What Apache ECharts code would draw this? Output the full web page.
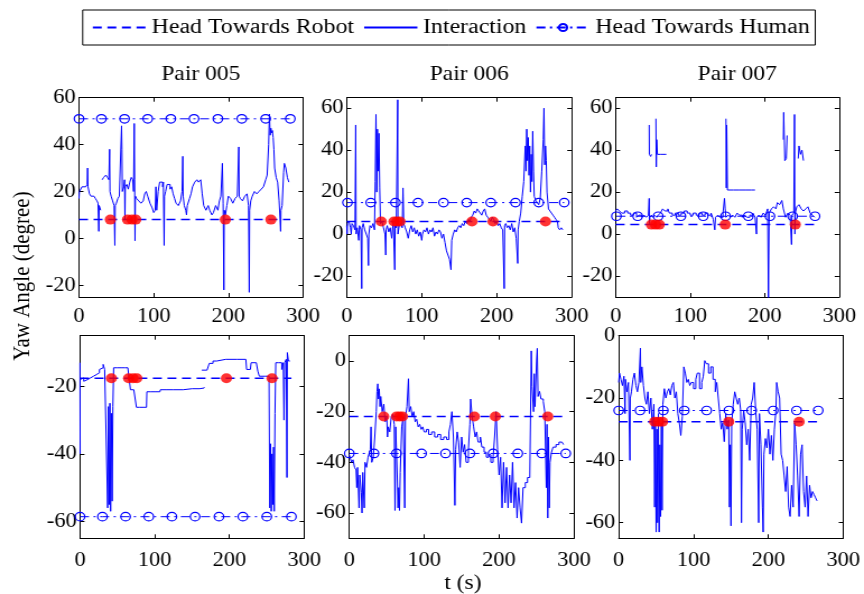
<!DOCTYPE html>
<html><head><meta charset="utf-8">
<script src="https://cdn.jsdelivr.net/npm/echarts@6.0.0/dist/echarts.min.js"></script>
<style>
html,body{margin:0;padding:0;overflow:hidden;background:#fff}
#c{width:771px;height:594px;transform-origin:0 0;transform:scaleX(1.1206);}
</style></head><body><div id="c"></div>
<script>
// ---------------- DATA ----------------
const pairTitles = ['Pair 005', 'Pair 006', 'Pair 007'];
const legendNames = ['Head Towards Robot', 'Interaction', 'Head Towards Human'];
const xTicks = [0, 100, 200, 300];
const xRange = [0, 300];
// panels: top row (005,006,007), bottom row (005,006,007)
const yMin = [-25, -30, -30, -65, -70, -65];
const yMax = [60, 65, 65, -5, 10, 0];
const yTicksTop = [-20, 0, 20, 40, 60];
const yTicksB005 = [-60, -40, -20];
const yTicksB006 = [-60, -40, -20, 0];
const yTicksB007 = [-60, -40, -20, 0];

const robotLevel = [8, 6, 4.5, -17.6, -21.9, -27.6];
const humanLevel = [51, 15, 8.5, -58.6, -36.5, -24];
const endTime = [283, 290, 268, 283, 290, 266];

const humanMarks005 = [0, 30, 61, 92, 123, 154, 186, 218, 250, 283];
const humanMarks006 = [1, 32, 65, 95, 129, 160, 192, 225, 256, 290];
const humanMarks007 = [1, 29.5, 57, 87.5, 117.5, 147.5, 178, 207, 237.5, 267.5];
const humanMarks006b = [0, 33, 63, 96.5, 128.5, 161, 192, 225, 257, 289];
const humanMarks007b = [0, 28.5, 59.6, 87.6, 117.5, 147.3, 177.6, 206.4, 237.6, 266.5];

const events005 = [42, 65, 71, 76, 196, 257];
const events006 = [46, 63, 67, 71, 167, 195, 265];
const events007 = [48, 53.5, 58.5, 147, 241];

const inter005top = [[0,17],[0.5,20],[3,20],[4,22],[9,22],[11,23],[11.5,30],[12,22],[14,19],[16,18],[20,18],[22,17],[24,16],[25.5,15],[26.5,3],[27,14],[29,12],[30,'-'],
[31,25],[33,26],[36,27],[38,26],[40,25],[41,38],[41.5,20],[43,18],[45,16],[47,14],[48,-3],[48.5,14],[50,15],[52,17],[54,18],[56,18],[57,48],[57.5,38],[58,20],[60,22],[61,25],[61.5,8],[62,22],[64,23],[66,21],[68,24],[70,26],[72,25],[73,20],[74,49],[74.5,25],[75,-1],[75.5,18],[77,17],[80,16],[83,15],[86,16],[88,19],[90,20],[92,18],[95,15],[98,13],[100,11],[102,12],[103,22],[104,12],[106,20],[108,24],[110,24],[112,22],[113,24],[114,-3],[114.5,18],[116,20],[118,23],[120,23],[122,21],[124,22],[126,19],[128,17],[130,15],[133,14],[136,16],[138,20],[139,35],[139.5,18],[141,14],[143,12],[144,10],[145,14],[148,17],[150,19],[152,22],[155,24],[158,25],[160,24],[163,25],[165,19],[167,14],[170,12],[173,14],[175,12],[178,10],[180,11],[183,14],[186,12],[188,16],[190,18],[192,32],[193,15],[194,-22],[194.5,12],[196,10],[198,14],[200,18],[203,17],[206,15],[209,17],[212,18],[214,39],[214.5,18],[216,17],[219,16],[222,18],[225,19],[227,14],[228,-23],[228.5,12],[230,16],[232,18],[235,20],[238,19],[241,20],[244,21],[247,22],[250,25],[252,27],[254,40],[255,53],[256,44],[257,47],[258,45],[259,46],[260,43],[261,38],[262,30],[264,26],[266,24],[268,16],[270,3],[270.5,12],[272,14],[274,28],[275,32],[277,30],[279,26],[281,24]];

const inter006top = [[0,4],[0.5,0],[1,5],[3,6],[5,3],[6,0],[7,5],[9,4],[11,2],[12,52],[12.5,0],[14,3],[16,-3],[17,4],[19,2],[20,-26],[20.5,3],[22,5],[24,2],[26,0],[28,-2],[29,-15],[29.5,0],[31,4],[33,3],[35,5],[37,2],[38,25],[39,57],[40,20],[41,50],[42,30],[43,48],[44,22],[45,5],[47,6],[49,3],[51,0],[52,-10],[52.5,2],[54,4],[56,1],[58,3],[60,-2],[62,6],[64,-17],[64.5,4],[66,3],[68,64],[68.3,0],[70,4],[72,5],[74,3],[75,22],[75.3,18],[76,5],[78,3],[80,1],[82,-2],[84,2],[86,4],[88,1],[90,3],[92,0],[94,2],[96,-1],[98,1],[100,-3],[101,0],[103,2],[105,1],[107,3],[109,0],[111,2],[113,1],[115,3],[117,-1],[119,1],[121,0],[123,2],[125,1],[127,-2],[129,0],[131,-4],[133,-8],[135,-10],[137,-12],[139,-17],[140,-3],[142,0],[144,2],[146,1],[148,3],[150,4],[152,3],[154,5],[156,4],[158,6],[160,5],[162,7],[164,6],[166,8],[168,9],[170,11],[172,10],[174,12],[176,11],[178,10],[180,9],[182,11],[184,12],[186,9],[188,8],[190,7],[192,6],[194,8],[196,7],[198,5],[200,6],[202,4],[204,5],[206,3],[208,2],[210,-26],[210.5,4],[212,5],[214,3],[216,4],[218,2],[220,5],[222,1],[224,3],[226,-2],[228,-14],[228.5,2],[230,6],[232,10],[234,18],[236,25],[238,42],[239,30],[240,50],[241,35],[242,46],[243,28],[244,42],[245,20],[246,38],[247,25],[248,49],[249,30],[250,18],[252,16],[254,15],[256,14],[258,17],[260,30],[262,45],[263,60],[264,33],[265,42],[266,35],[267,20],[269,12],[271,11],[273,10],[275,9],[277,8],[279,7],[281,6],[282,3],[284,2],[286,3],[288,2]];

const inter007top = [[0,11],[2,12],[5,11],[8,10],[12,11],[16,10],[20,9],[24,10],[28,8],[31,9],[35,8],[38,9],[41,8],[44,9],[45,17],[45.3,5],[46,8],[48,9],[50,8],[52,9],[55,8],[57,9],[60,10],[63,12],[66,11],[70,12],[72,10],[76,9],[80,10],[84,9],[88,10],[92,11],[96,10],[100,9],[104,10],[108,9],[112,10],[116,9],[120,10],[124,9],[128,10],[131,7],[133,2],[134,8],[137,9],[140,8],[144,10],[146,17],[147,12],[148,8],[151,9],[154,8],[157,9],[160,8],[163,10],[166,9],[170,8],[173,9],[176,8],[180,9],[184,10],[187,8],[189,0],[189.5,8],[192,9],[195,8],[198,10],[201,9],[204,12],[205,-32],[205.5,-10],[206,10],[209,12],[212,13],[215,12],[217,15],[220,14],[223,16],[225,12],[228,8],[231,10],[234,9],[236,-5],[236.5,9],[239,10],[240,57],[240.5,0],[241,10],[243,13],[246,14],[249,12],[252,11],[255,12],[258,13],[261,10],[264,9],[267,8],
[267.5,'-'],[45,52],[45.2,38],[46,38],[47,37],[48,38],[48.5,'-'],[54,55],[54.5,32],[55,45],[56,38],[60,38],[64,38],[68,38],[68.5,'-'],[148,55],[148.5,22],[149,52],[150,21],[158,21],[166,21],[174,21],[182,21],[187,21],[187.5,'-'],[225,45],[225.5,58],[226,50],[227,35],[229,36],[230,47],[230.5,'-'],[245,36],[246,42],[248,38],[250,40],[252,35]];

const inter005bot = [[0,-13],[0.2,-40],[0.3,'-'],[0,-18],[3,-17.5],[5,-18.5],[7,-18],[10,-17.5],[14,-17],[18,-16.5],[22,-16],[26,-15],[29,-14.5],[31,-13.5],[33,-15],[36,-15.5],[37,-56],[38,-26],[39,-55],[40,-25],[41,-57],[42,-28],[43,-54],[44,-26],[45,-14.5],[50,-14.5],[55,-14.5],[60,-14.5],[64,-14.5],[67,-14.5],[67.5,-21],[72,-21],[75,-21],[75.5,-26.2],[80,-26.2],[85,-26.2],[89,-26.2],[89.5,-21.6],[95,-21.6],[100,-21.6],[107,-21.6],[107.5,-21],[115,-21],[125,-21],[138,-21],[140,-20.7],[150,-20.7],[160,-20.5],[166,-20.3],[166.5,'-'],[163,-15.2],[170,-15.2],[173,-13.2],[178,-12.5],[183,-12],[195,-12],[210,-12],[222,-12],[223,-15],[228,-15],[229,-13],[236,-13],[238,-15.5],[240,-17],[248,-17],[253,-17],[254,-56],[255,-37],[256,-57],[257,-40],[258,-55],[259,-38],[260,-57],[261,-28],[262,-13],[266,-13],[270,-15],[272,-13],[273,-30],[274,-13],[276,-12],[277,-47],[277.5,-10],[279,-12.5],[281,-12.5]];

const inter006bot = [[0,-37],[1,-38],[3,-40],[5,-39],[7,-42],[9,-43],[10,-50],[11,-42],[13,-58],[14,-45],[16,-52],[17,-60],[18,-44],[20,-58],[21,-40],[23,-42],[25,-38],[27,-36],[28,-35],[29,-26],[30,-40],[32,-38],[34,-30],[36,-20],[37,-12],[38,-9],[39,-15],[40,-11],[41,-18],[42,-14],[44,-20],[46,-17],[48,-24],[50,-22],[51,-30],[52,-26],[54,-28],[56,-22],[58,-21],[60,-25],[61,-59],[62,-26],[64,-45],[65,-58],[66,-50],[67,-59],[68,-44],[70,-26],[72,-22],[74,-58],[75,-22],[77,-18],[79,-7],[80,-20],[82,-18],[84,-22],[86,-20],[88,-24],[90,-23],[92,-26],[94,-25],[96,-27],[98,-26],[100,-28],[103,-27],[106,-29],[110,-28],[114,-30],[118,-29],[122,-31],[126,-30],[130,-31],[133,-28],[135,-25],[137,-20],[139,-30],[141,-57],[142,-35],[144,-28],[146,-32],[148,-42],[150,-30],[152,-36],[154,-33],[156,-40],[159,-35],[161,-25],[162,-15],[164,-22],[166,-26],[168,-30],[170,-28],[172,-32],[175,-30],[177,-34],[180,-36],[183,-38],[186,-37],[189,-40],[192,-38],[194,-30],[196,-20],[198,-35],[200,-45],[202,-38],[204,-58],[206,-40],[208,-56],[210,-42],[212,-58],[214,-45],[216,-56],[218,-40],[220,-58],[222,-48],[224,-62],[226,-50],[228,-58],[230,-64],[232,-50],[235,-48],[238,-46],[241,-45],[243,4],[244,-10],[246,-20],[247,-5],[248,-18],[250,0],[251,5],[252,-14],[254,-12],[256,-15],[259,-16],[261,-20],[263,-50],[264,-25],[265,-62],[266,-30],[267,-58],[268,-40],[270,-36],[272,-34],[276,-33],[280,-32],[284,-32],[286,-33]];

const inter007bot = [[0,-15],[1,-12],[3,-14],[5,-16],[7,-13],[8.5,-25],[9,-14],[11,-18],[13,-15],[15,-40],[15.5,-20],[17,-18],[19,-14],[21,-12],[23,-16],[25,-18],[27,-15],[29,-4],[29.5,-15],[31,-10],[33,-16],[35,-20],[37,-22],[39,-18],[41,-25],[43,-20],[45,-30],[47,-22],[48,-55],[49,-28],[50,-63],[51,-30],[52,-60],[53,-25],[54,-63],[55,-35],[56,-58],[57,-28],[58,-56],[59,-22],[61,-17],[63,-20],[65,-18],[67,-17],[69,-19],[71,-16],[73,-15],[75,-20],[77,-18],[79,-25],[81,-28],[83,-32],[85,-26],[87,-10],[89,-12],[91,-15],[93,-14],[95,-16],[97,-15],[100,-17],[103,-14],[105,-12],[108,-17],[111,-15],[113,-13],[115,-8],[117,-9],[120,-12],[123,-10],[126,-14],[129,-18],[131,-15],[133,-20],[135,-25],[137,-30],[139,-28],[141,-34],[143,-25],[145,-30],[147,-27],[148,-55],[149,-35],[150,-61],[151,-28],[153,-22],[155,-18],[157,-20],[159,-22],[161,-20],[163,-24],[164,-60],[165,-30],[167,-24],[169,-28],[171,-35],[173,-30],[175,-40],[177,-22],[179,-20],[181,-15],[183,-24],[185,-30],[187,-60],[188,-25],[190,-35],[192,-55],[193,-63],[194,-38],[196,-33],[198,-36],[200,-30],[202,-38],[204,-32],[206,-40],[208,-30],[210,-24],[211,-15],[213,-18],[215,-20],[217,-38],[219,-40],[221,-45],[223,-50],[225,-42],[227,-55],[229,-58],[231,-48],[233,-55],[235,-28],[237,-35],[239,-45],[241,-58],[243,-38],[245,-35],[247,-50],[249,-55],[251,-45],[253,-58],[255,-48],[257,-52],[259,-50],[261,-51],[263,-52],[265,-53]];

// ---------------- BUILD ----------------
const FONT = 'Liberation Serif';
const BLUE = '#0000ff';
const NOFILL = 'rgba(0,0,0,0)';
const panels = [
  {inter: inter005top, marks: humanMarks005, ev: events005, yt: yTicksTop},
  {inter: inter006top, marks: humanMarks006, ev: events006, yt: yTicksTop},
  {inter: inter007top, marks: humanMarks007, ev: events007, yt: yTicksTop},
  {inter: inter005bot, marks: humanMarks005, ev: events005, yt: yTicksB005},
  {inter: inter006bot, marks: humanMarks006b, ev: events006, yt: yTicksB006},
  {inter: inter007bot, marks: humanMarks007b, ev: events007, yt: yTicksB007}
];
const gridPos = [
  {left: 70.5, top: 97.7, width: 199.9, height: 199.3},
  {left: 309.4, top: 97.7, width: 200.8, height: 199.3},
  {left: 549.4, top: 97.7, width: 199.5, height: 199.3},
  {left: 71.4, top: 335.7, width: 200, height: 202.6},
  {left: 311.7, top: 335.7, width: 200.5, height: 202.6},
  {left: 552.1, top: 335.7, width: 200.4, height: 202.6}
];
const xLabelMargin = [10, 10, 10, 12, 12, 12];
const axLine = {onZero: false, lineStyle: {color: '#000', width: 1}};
const grids = [], xAxes = [], yAxes = [], series = [];
panels.forEach((p, i) => {
  grids.push(Object.assign({containLabel: false}, gridPos[i]));
  xAxes.push({gridIndex: i, type: 'value', min: xRange[0], max: xRange[1], position: 'bottom',
    axisLine: axLine, splitLine: {show: false},
    axisTick: {inside: true, length: 4, customValues: xTicks, lineStyle: {color: '#000'}},
    axisLabel: {customValues: xTicks, margin: xLabelMargin[i], fontFamily: FONT, fontSize: 20, color: '#000'}});
  xAxes.push({gridIndex: i, type: 'value', min: xRange[0], max: xRange[1], position: 'top',
    axisLine: axLine, splitLine: {show: false},
    axisTick: {inside: true, length: 4, customValues: xTicks, lineStyle: {color: '#000'}},
    axisLabel: {show: false}});
  yAxes.push({gridIndex: i, type: 'value', min: yMin[i], max: yMax[i], position: 'left',
    axisLine: axLine, splitLine: {show: false},
    axisTick: {inside: true, length: 4, customValues: p.yt, lineStyle: {color: '#000'}},
    axisLabel: {customValues: p.yt, margin: 3, fontFamily: FONT, fontSize: 20, color: '#000'}});
  yAxes.push({gridIndex: i, type: 'value', min: yMin[i], max: yMax[i], position: 'right',
    axisLine: axLine, splitLine: {show: false},
    axisTick: {inside: true, length: 4, customValues: p.yt, lineStyle: {color: '#000'}},
    axisLabel: {show: false}});
  const xi = 2 * i, yi = 2 * i;
  series.push({type: 'line', name: legendNames[1], xAxisIndex: xi, yAxisIndex: yi, data: p.inter,
    symbol: 'none', step: 'end', connectNulls: false, lineStyle: {color: BLUE, width: 1},
    itemStyle: {color: NOFILL, borderWidth: 0}, z: 2});
  series.push({type: 'line', name: legendNames[0], xAxisIndex: xi, yAxisIndex: yi,
    data: [[0, robotLevel[i]], [endTime[i], robotLevel[i]]],
    symbol: 'none', lineStyle: {color: BLUE, width: 1.5, type: [8, 5]},
    itemStyle: {color: NOFILL, borderWidth: 0}, z: 3});
  series.push({type: 'line', name: legendNames[2], xAxisIndex: xi, yAxisIndex: yi,
    data: p.marks.map(t => [t, humanLevel[i]]),
    symbol: 'circle', symbolSize: 8.5, showSymbol: true,
    lineStyle: {color: BLUE, width: 1, type: [8, 4, 2, 4]},
    itemStyle: {color: NOFILL, borderColor: BLUE, borderWidth: 1.2}, z: 4});
  series.push({type: 'scatter', name: 'Events', xAxisIndex: xi, yAxisIndex: yi,
    data: p.ev.map(t => [t, robotLevel[i]]), symbolSize: 10, itemStyle: {color: '#ff0000'}, z: 5});
});

const titleX = [179.2, 418.7, 657.9];
const txt = (text, x, y, rot) => ({type: 'text', x: x, y: y, rotation: rot || 0,
  style: {text: text, font: '21px ' + FONT, fill: '#000', align: 'center', verticalAlign: 'middle',
    textAlign: 'center', textVerticalAlign: 'middle'}});
const graphic = pairTitles.map((t, k) => txt(t, titleX[k], 74.5));
graphic.push(txt('Yaw Angle (degree)', 20.5, 276, Math.PI / 2));
graphic.push(txt('t (s)', 413, 583));

const chart = echarts.init(document.getElementById('c'), null, {renderer: 'canvas'});
chart.setOption({
  animation: false,
  backgroundColor: '#fff',
  legend: {data: legendNames, left: 73.8, top: 10, orient: 'horizontal', selectedMode: false,
    borderColor: '#000', borderWidth: 1, padding: [7, 5, 7, 8], itemGap: 8, itemWidth: 47.5, itemHeight: 9,
    textStyle: {fontFamily: FONT, fontSize: 21.3, color: '#000'}},
  grid: grids, xAxis: xAxes, yAxis: yAxes, series: series, graphic: graphic
});
</script></body></html>
